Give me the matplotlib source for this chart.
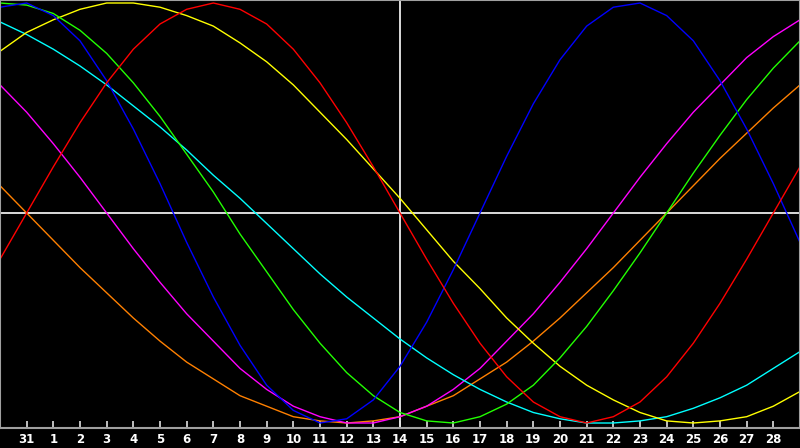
import matplotlib
matplotlib.use("Agg")
import matplotlib.pyplot as plt

# day labels along the bottom (first and last slot have no label)
day_labels = ["31"] + [str(d) for d in range(1, 29)]

# cycle values per day slot (0..30)
red = [-0.22, 0, 0.22, 0.43, 0.62, 0.78, 0.90, 0.97, 1.00, 0.97, 0.90, 0.78, 0.62, 0.43, 0.22, 0,
       -0.22, -0.43, -0.62, -0.78, -0.90, -0.97, -1.00, -0.97, -0.90, -0.78, -0.62, -0.43, -0.22, 0, 0.22]
blue = [0.98, 1.00, 0.94, 0.82, 0.63, 0.40, 0.14, -0.14, -0.40, -0.63, -0.82, -0.94, -1.00, -0.98, -0.89, -0.73,
        -0.52, -0.27, 0, 0.27, 0.52, 0.73, 0.89, 0.98, 1.00, 0.94, 0.82, 0.63, 0.40, 0.14, -0.14]
green = [1.00, 0.99, 0.95, 0.87, 0.76, 0.62, 0.46, 0.28, 0.10, -0.10, -0.28, -0.46, -0.62, -0.76, -0.87, -0.95,
         -0.99, -1.00, -0.97, -0.91, -0.82, -0.69, -0.54, -0.37, -0.19, 0, 0.19, 0.37, 0.54, 0.69, 0.82]
yellow = [0.77, 0.86, 0.92, 0.97, 1.00, 1.00, 0.98, 0.94, 0.89, 0.81, 0.72, 0.61, 0.48, 0.35, 0.21, 0.07,
          -0.08, -0.23, -0.36, -0.50, -0.62, -0.73, -0.82, -0.89, -0.95, -0.99, -1.00, -0.99, -0.97, -0.92, -0.85]
cyan = [0.91, 0.85, 0.78, 0.70, 0.61, 0.51, 0.41, 0.30, 0.18, 0.07, -0.05, -0.17, -0.29, -0.40, -0.50, -0.60,
        -0.69, -0.77, -0.84, -0.90, -0.95, -0.98, -1.00, -1.00, -0.99, -0.97, -0.93, -0.88, -0.82, -0.74, -0.66]
magenta = [0.61, 0.48, 0.33, 0.17, 0, -0.17, -0.33, -0.48, -0.61, -0.74, -0.84, -0.92, -0.97, -1.00, -1.00, -0.97,
           -0.92, -0.84, -0.74, -0.61, -0.48, -0.33, -0.17, 0, 0.17, 0.33, 0.48, 0.61, 0.74, 0.84, 0.92]
orange = [0.13, 0, -0.13, -0.26, -0.38, -0.50, -0.61, -0.71, -0.79, -0.87, -0.92, -0.97, -0.99, -1.00, -0.99, -0.97,
          -0.92, -0.87, -0.79, -0.71, -0.61, -0.50, -0.38, -0.26, -0.13, 0, 0.13, 0.26, 0.38, 0.50, 0.61]

series = [
    (orange, "#ff8000"),
    (magenta, "#ff00ff"),
    (cyan, "#00ffff"),
    (yellow, "#ffff00"),
    (green, "#22ff00"),
    (blue, "#0000ff"),
    (red, "#ff0000"),
]

days = list(range(len(red)))
today = 15

fig = plt.figure(figsize=(8, 4.48), dpi=100, facecolor="black")
ax = fig.add_axes([0, 20 / 448, 1, 428 / 448])
ax.set_facecolor("black")

# centre lines
ax.axhline(0, color="white", lw=1.2, zorder=1)
ax.axvline(today, color="white", lw=1.2, zorder=1)

for vals, col in series:
    ax.plot(days, vals, color=col, lw=1, zorder=2)

ax.set_xlim(0, 30)
ax.set_ylim(-215 / 210, 213 / 210)

ax.set_xticks(range(1, 30))
ax.set_xticklabels(day_labels, fontsize=8.5, fontweight="bold")
ax.set_yticks([])
ax.tick_params(axis="x", direction="in", length=5, width=1.2,
               color="#e0e0e0", labelcolor="white", pad=3.5)

for sp in ax.spines.values():
    sp.set_color("#a0a0a0")
    sp.set_linewidth(1.5)

fig.savefig("out.png", dpi=100, facecolor="black")
